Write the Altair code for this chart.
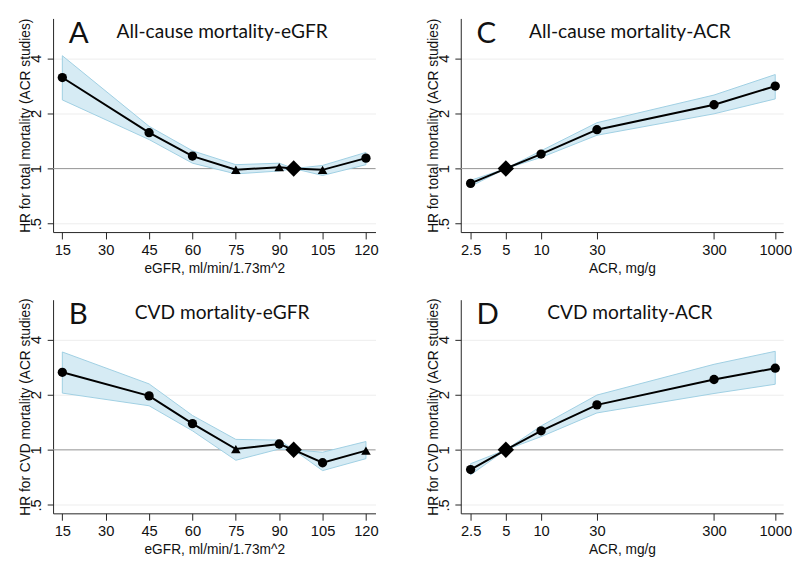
import altair as alt
import pandas as pd

# ---------------- data ----------------
egfr = [15, 45, 60, 75, 90, 95, 105, 120]
acr = [2.5, 5, 10, 30, 300, 1000]

a_hr = [3.14, 1.57, 1.17, 0.985, 1.017, 1.0, 0.984, 1.14]
a_lo = [2.37, 1.44, 1.07, 0.935, 0.97, 1.0, 0.917, 1.05]
a_hi = [4.13, 1.70, 1.25, 1.05, 1.07, 1.0, 1.04, 1.225]
a_shape = ["circle", "circle", "circle", "triangle", "triangle", "diamond", "triangle", "circle"]

b_hr = [2.65, 1.97, 1.39, 1.01, 1.076, 1.0, 0.85, 0.99]
b_lo = [2.04, 1.74, 1.27, 0.877, 1.01, 1.0, 0.77, 0.895]
b_hi = [3.42, 2.29, 1.54, 1.14, 1.13, 1.0, 0.97, 1.11]
b_shape = ["circle", "circle", "circle", "triangle", "circle", "diamond", "circle", "triangle"]

c_hr = [0.83, 1.0, 1.20, 1.63, 2.23, 2.82]
c_lo = [0.80, 1.0, 1.15, 1.52, 1.99, 2.40]
c_hi = [0.862, 1.0, 1.25, 1.78, 2.52, 3.26]
c_shape = ["circle", "diamond", "circle", "circle", "circle", "circle"]

d_hr = [0.78, 1.0, 1.27, 1.76, 2.42, 2.79]
d_lo = [0.73, 1.0, 1.18, 1.59, 2.03, 2.28]
d_hi = [0.84, 1.0, 1.35, 1.99, 2.93, 3.45]
d_shape = ["circle", "diamond", "circle", "circle", "circle", "circle"]

y_ticks = [0.5, 1, 2, 4]
y_tick_labels = [".5", "1", "2", "4"]
egfr_ticks = [15, 30, 45, 60, 75, 90, 105, 120]
acr_ticks = [2.5, 5, 10, 30, 300, 1000]

# ---------------- style ----------------
W, H = 329, 218
BAND_FILL = "#d6ebf4"
BAND_EDGE = "#9fcfe2"
LABEL_FONT = "Liberation Sans"
TITLE_FONT = "Lato"
MARKERS = {"circle": ("circle", 90), "triangle": ("triangle-up", 95), "diamond": ("diamond", 280)}

y_label_expr = " : ".join(
    f"datum.value == {v} ? '{l}'" for v, l in zip(y_ticks, y_tick_labels)
) + " : ''"

y_scale = alt.Scale(type="log", domain=[0.45, 6.6], nice=False)


def y_axis(title):
    return alt.Axis(
        title=title, values=y_ticks, labelExpr=y_label_expr,
        labelAngle=270, labelAlign="center", labelBaseline="bottom",
        tickSize=6, labelPadding=4, grid=True, gridColor="#ededed",
        minExtent=16, maxExtent=16, titlePadding=5,
    )


def panel(xs, hr, lo, hi, shapes, xkind, ytitle, letter, title):
    df = pd.DataFrame({"x": xs, "hr": hr, "lo": lo, "hi": hi, "shape": shapes})
    if xkind == "egfr":
        xscale = alt.Scale(domain=[11.8, 123.3], nice=False, zero=False)
        xaxis = alt.Axis(title="eGFR, ml/min/1.73m^2", values=egfr_ticks,
                         tickSize=7, labelPadding=4, grid=False, format="d")
    else:
        xscale = alt.Scale(type="log", domain=[2.06, 1169], nice=False)
        xaxis = alt.Axis(title="ACR, mg/g", values=acr_ticks,
                         tickSize=7, labelPadding=4, grid=False, format="~g")
    yax = y_axis(ytitle)
    xenc = alt.X("x:Q", scale=xscale, axis=xaxis)
    base = alt.Chart(df)

    ref = alt.Chart(pd.DataFrame({"v": [1]})).mark_rule(
        color="#9a9a9a", strokeWidth=1
    ).encode(y=alt.Y("v:Q", scale=y_scale, axis=yax))

    band = base.mark_area(fill=BAND_FILL, stroke=BAND_EDGE, strokeWidth=1).encode(
        x=xenc, y=alt.Y("lo:Q", scale=y_scale, axis=yax), y2="hi:Q"
    )
    line = base.mark_line(color="black", strokeWidth=2).encode(
        x=xenc, y=alt.Y("hr:Q", scale=y_scale, axis=yax)
    )
    layers = [ref, band, line]
    for key, (shp, sz) in MARKERS.items():
        if key in shapes:
            layers.append(
                base.transform_filter(alt.datum.shape == key).mark_point(
                    filled=True, color="black", opacity=1, shape=shp, size=sz
                ).encode(x=xenc, y=alt.Y("hr:Q", scale=y_scale, axis=yax))
            )
    tdf = pd.DataFrame({"letter": [letter], "title": [title]})
    layers.append(alt.Chart(tdf).mark_text(
        font=TITLE_FONT, fontSize=30, align="left", baseline="alphabetic", color="#111"
    ).encode(x=alt.value(16), y=alt.value(25), text="letter:N"))
    layers.append(alt.Chart(tdf).mark_text(
        font=TITLE_FONT, fontSize=19.5, align="center", baseline="alphabetic", color="#111"
    ).encode(x=alt.value(W / 2 + 8), y=alt.value(20), text="title:N"))

    return alt.layer(*layers).properties(width=W, height=H)


pA = panel(egfr, a_hr, a_lo, a_hi, a_shape, "egfr",
           "HR for total mortality (ACR studies)", "A", "All-cause mortality-eGFR")
pC = panel(acr, c_hr, c_lo, c_hi, c_shape, "acr",
           "HR for total mortality (ACR studies)", "C", "All-cause mortality-ACR")
pB = panel(egfr, b_hr, b_lo, b_hi, b_shape, "egfr",
           "HR for CVD mortality (ACR studies)", "B", "CVD mortality-eGFR")
pD = panel(acr, d_hr, d_lo, d_hi, d_shape, "acr",
           "HR for CVD mortality (ACR studies)", "D", "CVD mortality-ACR")

chart = alt.vconcat(
    alt.hconcat(pA, pC, spacing=49),
    alt.hconcat(pB, pD, spacing=49),
    spacing=23,
).properties(
    padding={"left": 11, "top": 4, "right": 0, "bottom": 0}
).configure_view(strokeWidth=0).configure_axis(
    labelFont=LABEL_FONT, labelFontSize=15, labelColor="#111",
    titleFont=LABEL_FONT, titleFontSize=14, titleFontWeight="normal", titleColor="#111",
    domainColor="#222", tickColor="#222", domainWidth=1, tickWidth=1,
)

chart.save("out.html", embed_options={"renderer": "svg", "actions": False})
